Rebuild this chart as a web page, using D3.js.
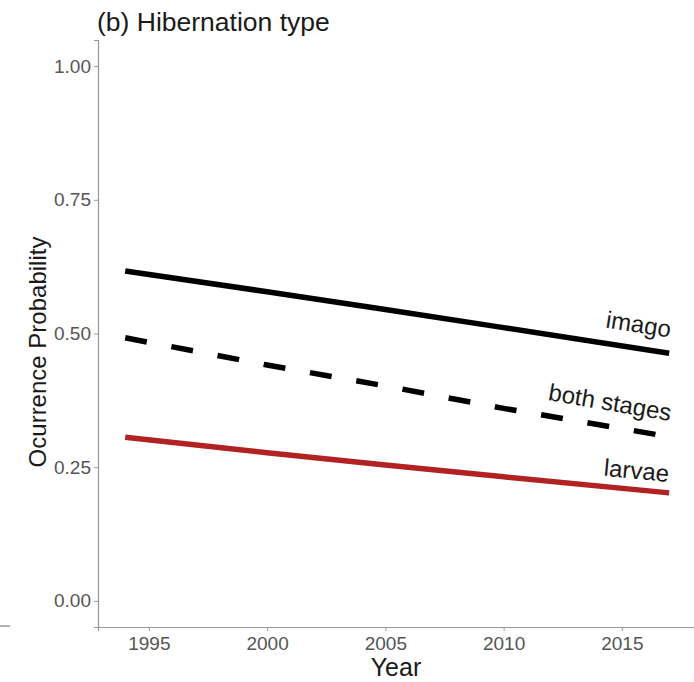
<!DOCTYPE html>
<meta charset="utf-8">
<script src="https://d3js.org/d3.v7.min.js"></script>
<style>
  body { margin: 0; background: #fff; }
  text { font-family: "Liberation Sans", Arial, sans-serif; }
</style>
<div id="my_dataviz"></div>
<script>

  // data
  var years = [1994, 2000, 2005, 2010, 2017];
  var imago = [0.617, 0.578, 0.545, 0.511, 0.463];
  var both = [0.492, 0.441, 0.402, 0.360, 0.307];
  var larvae = [0.306, 0.277, 0.254, 0.232, 0.202];
  var seriesNames = ["imago", "both stages", "larvae"];
  var xTicks = [1995, 2000, 2005, 2010, 2015];
  var yTicks = [0, 0.25, 0.5, 0.75, 1];

  var W = 694, H = 682;
  var margin = {top: 40, right: 0, bottom: 55, left: 98},
    width = W - margin.left - margin.right,
    height = H - margin.top - margin.bottom;

  var svg = d3.select("#my_dataviz")
    .append("svg")
      .attr("width", W)
      .attr("height", H);

  var g = svg.append("g")
      .attr("transform", "translate(" + margin.left + "," + margin.top + ")");

  // scales
  var x = d3.scaleLinear().domain([1992.85, 2018.05]).range([0, width]);
  var y = d3.scaleLinear().domain([-0.0488, 1.0488]).range([height, 0]);

  // axes
  var xAxis = g.append("g")
      .attr("transform", "translate(0," + height + ")")
      .call(d3.axisBottom(x).tickValues(xTicks).tickFormat(d3.format("d")).tickSize(4).tickPadding(6));
  var yAxis = g.append("g")
      .call(d3.axisLeft(y).tickValues(yTicks).tickFormat(d3.format(".2f")).tickSize(4).tickPadding(3));

  [xAxis, yAxis].forEach(function(a) {
    a.select(".domain").attr("stroke", "#999").attr("stroke-width", 1.2);
    a.selectAll(".tick line").attr("stroke", "#999");
    a.selectAll(".tick text")
      .attr("fill", "#555")
      .style("font-size", "19px")
      .style("font-family", "'Liberation Sans', Arial, sans-serif");
  });

  // lines
  var line = d3.line()
    .x(function(d) { return x(d[0]); })
    .y(function(d) { return y(d[1]); });

  var series = [
    {name: seriesNames[0], vals: imago, color: "#000", dash: null, dy: -16},
    {name: seriesNames[1], vals: both, color: "#000", dash: "22,25", dy: -16},
    {name: seriesNames[2], vals: larvae, color: "#b22222", dash: null, dy: -11}
  ];

  series.forEach(function(s) {
    var pts = years.map(function(yr, i) { return [yr, s.vals[i]]; });
    g.append("path")
      .datum(pts)
      .attr("fill", "none")
      .attr("stroke", s.color)
      .attr("stroke-width", 5.5)
      .attr("stroke-dasharray", s.dash)
      .attr("d", line);

    // label at the right end, tilted along the line
    var n = pts.length;
    var x0 = x(pts[n - 2][0]), y0 = y(pts[n - 2][1]);
    var x1 = x(pts[n - 1][0]), y1 = y(pts[n - 1][1]);
    var ang = Math.atan2(y1 - y0, x1 - x0) * 180 / Math.PI;
    g.append("text")
      .attr("transform", "translate(" + (x1 - 2) + "," + y1 + ") rotate(" + ang + ")")
      .attr("dy", s.dy)
      .attr("text-anchor", "end")
      .style("font-size", "24px")
      .attr("fill", "#1a1a1a")
      .text(s.name);
  });

  // title
  svg.append("text")
    .attr("x", 97)
    .attr("y", 31)
    .style("font-size", "26.5px")
    .attr("fill", "#1a1a1a")
    .text("(b) Hibernation type");

  // axis titles
  svg.append("text")
    .attr("x", margin.left + width / 2)
    .attr("y", 676)
    .attr("text-anchor", "middle")
    .style("font-size", "25px")
    .attr("fill", "#1a1a1a")
    .text("Year");

  svg.append("text")
    .attr("transform", "translate(46,352) rotate(-90)")
    .attr("text-anchor", "middle")
    .style("font-size", "24px")
    .attr("fill", "#1a1a1a")
    .text("Ocurrence Probability");

  // small stray axis stub at the left edge
  svg.append("line")
    .attr("x1", 0).attr("x2", 10)
    .attr("y1", 626).attr("y2", 626)
    .attr("stroke", "#999")
    .attr("stroke-width", 1.5);

</script>
